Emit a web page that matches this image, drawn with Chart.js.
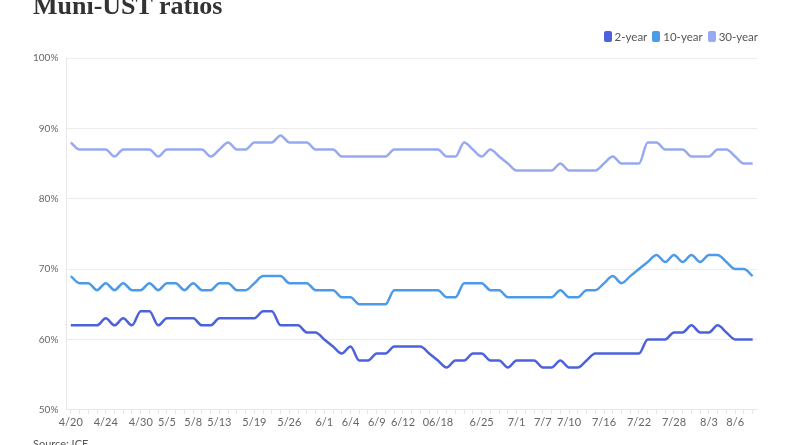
<!DOCTYPE html>
<html>
<head>
<meta charset="utf-8">
<script src="https://cdn.jsdelivr.net/npm/chart.js@4.4.1/dist/chart.umd.min.js"></script>
<style>
  html, body { margin: 0; padding: 0; background: #fff; overflow: hidden; }
  #wrap { position: relative; width: 800px; height: 445px; }
  #title {
    position: absolute; left: 33px; top: -7px;
    font-family: "Liberation Serif", serif; font-weight: bold; font-size: 26px;
    color: #333; line-height: 1; white-space: nowrap;
  }
  #legend {
    position: absolute; right: 42px; top: 30px;
    font-family: Lato, sans-serif; font-size: 11.5px; color: #555;
    display: flex; gap: 5px; align-items: center;
  }
  #legend span.item { display: flex; align-items: center; }
  #legend i { display: inline-block; width: 8px; height: 11px; border-radius: 2px; margin-right: 3px; }
  #source {
    position: absolute; left: 33px; top: 437px;
    font-family: Lato, sans-serif; font-size: 11px; color: #555;
  }
  #chartBox { position: absolute; left: 0; top: 0; width: 800px; height: 445px; }
</style>
</head>
<body>
<div id="wrap">
  <div id="chartBox"><canvas id="mainChart"></canvas></div>
  <div id="title">Muni-UST ratios</div>
  <div id="legend"></div>
  <div id="source">Source: ICE</div>
</div>
<script>
// Data (business days, 2020)
const dates = [
  '4/20','4/21','4/22','4/23','4/24','4/27','4/28','4/29','4/30','5/1',
  '5/4','5/5','5/6','5/7','5/8','5/11','5/12','5/13','5/14','5/15',
  '5/18','5/19','5/20','5/21','5/22','5/26','5/27','5/28','5/29','6/1',
  '6/2','6/3','6/4','6/5','6/8','6/9','6/10','6/11','6/12','6/15',
  '6/16','6/17','06/18','6/19','6/22','6/23','6/24','6/25','6/26','6/29',
  '6/30','7/1','7/2','7/6','7/7','7/8','7/9','7/10','7/13','7/14',
  '7/15','7/16','7/17','7/20','7/21','7/22','7/23','7/24','7/27','7/28',
  '7/29','7/30','7/31','8/3','8/4','8/5','8/6','8/7','8/10'
];
const shownTicks = ['4/20','4/24','4/30','5/5','5/8','5/13','5/19','5/26','6/1','6/4',
  '6/9','6/12','06/18','6/25','7/1','7/7','7/10','7/16','7/22','7/28','8/3','8/6'];

const twoYear = [
  62,62,62,62,63,62,63,62,64,64,
  62,63,63,63,63,62,62,63,63,63,
  63,63,64,64,62,62,62,61,61,60,
  59,58,59,57,57,58,58,59,59,59,
  59,58,57,56,57,57,58,58,57,57,
  56,57,57,57,56,56,57,56,56,57,
  58,58,58,58,58,58,60,60,60,61,
  61,62,61,61,62,61,60,60,60
];
const tenYear = [
  69,68,68,67,68,67,68,67,67,68,
  67,68,68,67,68,67,67,68,68,67,
  67,68,69,69,69,68,68,68,67,67,
  67,66,66,65,65,65,65,67,67,67,
  67,67,67,66,66,68,68,68,67,67,
  66,66,66,66,66,66,67,66,66,67,
  67,68,69,68,69,70,71,72,71,72,
  71,72,71,72,72,71,70,70,69
];
const thirtyYear = [
  88,87,87,87,87,86,87,87,87,87,
  86,87,87,87,87,87,86,87,88,87,
  87,88,88,88,89,88,88,88,87,87,
  87,86,86,86,86,86,86,87,87,87,
  87,87,87,86,86,88,87,86,87,86,
  85,84,84,84,84,84,85,84,84,84,
  84,85,86,85,85,85,88,88,87,87,
  87,86,86,86,87,87,86,85,85
];

const seriesNames = ['2-year', '10-year', '30-year'];
const seriesColors = ['#4c62dc', '#4d9ae8', '#97a9f0'];

// Legend
const legendEl = document.getElementById('legend');
seriesNames.forEach((name, i) => {
  const item = document.createElement('span');
  item.className = 'item';
  item.innerHTML = `<i style="background:${seriesColors[i]}"></i>${name}`;
  legendEl.appendChild(item);
});

const ctx = document.getElementById('mainChart').getContext('2d');
const allSeries = [twoYear, tenYear, thirtyYear];

new Chart(ctx, {
  type: 'line',
  data: {
    labels: dates,
    datasets: allSeries.map((vals, i) => ({
      label: seriesNames[i],
      data: vals,
      borderColor: seriesColors[i],
      borderWidth: 2.5,
      pointRadius: 0,
      cubicInterpolationMode: 'monotone',
      fill: false
    }))
  },
  options: {
    responsive: true,
    maintainAspectRatio: false,
    animation: false,
    layout: { padding: { left: 25, right: 43, top: 58, bottom: 14 } },
    plugins: {
      legend: { display: false },
      tooltip: { enabled: false }
    },
    scales: {
      x: {
        offset: true,
        grid: { display: true, drawOnChartArea: false, drawTicks: true, tickLength: 4, color: '#e6e6e6' },
        border: { color: '#e6e6e6' },
        ticks: {
          autoSkip: false,
          maxRotation: 0,
          padding: 2,
          color: '#666',
          font: { family: 'Lato', size: 11 },
          callback: function (val) {
            const lbl = this.getLabelForValue(val);
            return shownTicks.includes(lbl) ? lbl : '';
          }
        }
      },
      y: {
        min: 50,
        max: 100,
        grid: { color: '#ececec', drawTicks: false },
        border: { color: '#e6e6e6' },
        ticks: {
          stepSize: 10,
          padding: 8,
          color: '#666',
          font: { family: 'Lato', size: 10 },
          callback: v => v + '%'
        }
      }
    }
  }
});
</script>
</body>
</html>
